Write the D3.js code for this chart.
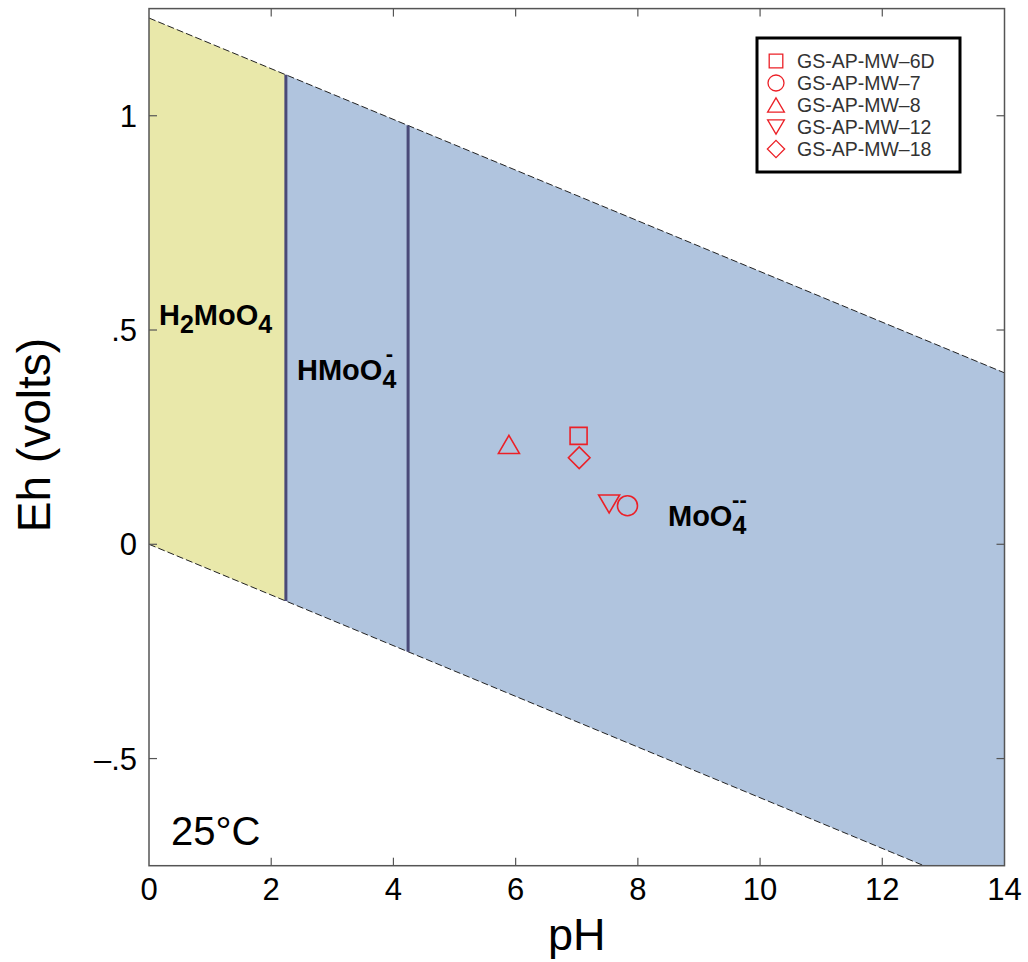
<!DOCTYPE html>
<html><head><meta charset="utf-8">
<script src="https://cdn.jsdelivr.net/npm/d3@7"></script>
<style>body{margin:0;background:#fff}svg{display:block}text{font-family:"Liberation Sans",Arial,sans-serif}</style>
</head><body>
<svg id="chart" width="1028" height="962"></svg>
<script>
// ---- data ----
const xTicks = [0, 2, 4, 6, 8, 10, 12, 14];
const yTicks = [-0.5, 0, 0.5, 1];
const yTickLabels = ["\u2013.5", "0", ".5", "1"];
// water stability limits (endpoints, pH vs Eh)
const upperWater = [[0, 1.228], [14, 0.400]];
const lowerWater = [[0, 0.0], [14, -0.828]];
// predominance boundaries (pH)
const boundaries = [2.24, 4.24];
const fieldNames = ["H2MoO4", "HMoO4-", "MoO4--"];
const sampleNames = ["GS-AP-MW\u20136D", "GS-AP-MW\u20137", "GS-AP-MW\u20138", "GS-AP-MW\u201312", "GS-AP-MW\u201318"];
const samplePH = [7.03, 7.83, 5.89, 7.53, 7.04];
const sampleEh = [0.253, 0.090, 0.233, 0.094, 0.202];
const sampleShapes = ["square", "circle", "triUp", "triDown", "diamond"];

// ---- layout ----
const svg = d3.select("#chart");
const L = 149, R = 1004.5, T = 8.6, B = 865.7;
const x = d3.scaleLinear().domain([0, 14]).range([L, R]);
const y = d3.scaleLinear().domain([-0.75, 1.25]).range([B, T]);

svg.append("defs").append("clipPath").attr("id", "clip")
  .append("rect").attr("x", L).attr("y", T).attr("width", R - L).attr("height", B - T);

const g = svg.append("g").attr("clip-path", "url(#clip)");

function lineAt(seg, ph) {
  const [a, b] = seg;
  return a[1] + (b[1] - a[1]) * (ph - a[0]) / (b[0] - a[0]);
}
function region(p0, p1) {
  return [[p0, lineAt(upperWater, p0)], [p1, lineAt(upperWater, p1)],
          [p1, lineAt(lowerWater, p1)], [p0, lineAt(lowerWater, p0)]];
}
const line = d3.line().x(d => x(d[0])).y(d => y(d[1]));
const fills = ["#e9e8aa", "#b0c4de"];
g.append("path").attr("d", line(region(0, boundaries[0])) + "Z").attr("fill", fills[0]);
g.append("path").attr("d", line(region(boundaries[0], 14)) + "Z").attr("fill", fills[1]);

// water lines
[upperWater, lowerWater].forEach(s => {
  g.append("path").attr("d", line(s)).attr("fill", "none")
    .attr("stroke", "#222").attr("stroke-width", 1).attr("stroke-dasharray", "7,3");
});
// boundaries
boundaries.forEach(p => {
  g.append("line").attr("x1", x(p)).attr("x2", x(p))
    .attr("y1", y(lineAt(upperWater, p))).attr("y2", y(lineAt(lowerWater, p)))
    .attr("stroke", "#4a4a78").attr("stroke-width", 3);
});

// frame
svg.append("rect").attr("x", L).attr("y", T).attr("width", R - L).attr("height", B - T)
  .attr("fill", "none").attr("stroke", "#555").attr("stroke-width", 1.5);

// ticks (inward on all sides)
const tk = 8;
xTicks.forEach(t => {
  if (t === 0 || t === 14) return;
  svg.append("line").attr("x1", x(t)).attr("x2", x(t)).attr("y1", B).attr("y2", B - tk).attr("stroke", "#555").attr("stroke-width", 1.2);
  svg.append("line").attr("x1", x(t)).attr("x2", x(t)).attr("y1", T).attr("y2", T + tk).attr("stroke", "#555").attr("stroke-width", 1.2);
});
yTicks.forEach(t => {
  svg.append("line").attr("x1", L).attr("x2", L + tk).attr("y1", y(t)).attr("y2", y(t)).attr("stroke", "#555").attr("stroke-width", 1.2);
  svg.append("line").attr("x1", R).attr("x2", R - tk).attr("y1", y(t)).attr("y2", y(t)).attr("stroke", "#555").attr("stroke-width", 1.2);
});
xTicks.forEach(t => {
  svg.append("text").attr("x", x(t)).attr("y", 900).attr("text-anchor", "middle")
    .attr("font-size", 31).attr("fill", "#000").text(t);
});
yTicks.forEach((t, i) => {
  svg.append("text").attr("x", 137).attr("y", y(t) + 11).attr("text-anchor", "end")
    .attr("font-size", 31).attr("fill", "#000").text(yTickLabels[i]);
});

// axis titles
svg.append("text").attr("x", x(7)).attr("y", 950).attr("text-anchor", "middle")
  .attr("font-size", 45).text("pH");
svg.append("text").attr("transform", "translate(50,435) rotate(-90)").attr("text-anchor", "middle")
  .attr("font-size", 46).text("Eh (volts)");

// 25°C
svg.append("text").attr("x", 171).attr("y", 845).attr("font-size", 40).text("25\u00B0C");

// field labels
function species(xp, yp, parts, sup) {
  const t = svg.append("text").attr("x", xp).attr("y", yp).attr("font-weight", "bold")
    .attr("font-size", 29).attr("fill", "#000");
  let idx = 0;
  parts.forEach(p => {
    const ts = t.append("tspan").text(p[0]);
    if (p[1]) { ts.attr("font-size", 25).attr("dy", 8); }
    else if (idx > 0) ts.attr("dy", parts[idx - 1][1] ? -8 : 0);
    idx++;
  });
  if (sup) {
    const node = t.node();
    const full = parts.map(p => p[0]).join("");
    const ci = full.length - 1;
    const sx = node.getStartPositionOfChar(ci).x;
    const w = node.getExtentOfChar(ci).width;
    svg.append("text").attr("x", sx + w / 2).attr("y", yp - 19).attr("text-anchor", "middle")
      .attr("font-weight", "bold").attr("font-size", 22).text(sup);
  }
}
species(159, 325, [["H"], ["2", true], ["MoO"], ["4", true]], null);
species(297, 380, [["HMoO"], ["4", true]], "-");
species(668, 526, [["MoO"], ["4", true]], "--");

// markers
function shapePath(s, k) {
  const p = d3.path();
  if (s === "square") { const h = 8.5 * k; p.rect(-h, -h, 2 * h, 2 * h); }
  else if (s === "circle") { p.arc(0, 0, 10 * k, 0, 2 * Math.PI); }
  else if (s === "triUp") { const w = 10.5 * k, h = 9 * k; p.moveTo(0, -h); p.lineTo(w, h); p.lineTo(-w, h); p.closePath(); }
  else if (s === "triDown") { const w = 10.5 * k, h = 9 * k; p.moveTo(-w, -h); p.lineTo(w, -h); p.lineTo(0, h); p.closePath(); }
  else if (s === "diamond") { const h = 10.8 * k; p.moveTo(0, -h); p.lineTo(h, 0); p.lineTo(0, h); p.lineTo(-h, 0); p.closePath(); }
  return p.toString();
}
const red = "#ec2027";
samplePH.forEach((ph, i) => {
  svg.append("path").attr("transform", `translate(${x(ph)},${y(sampleEh[i])})`)
    .attr("d", shapePath(sampleShapes[i], 1)).attr("fill", "none")
    .attr("stroke", red).attr("stroke-width", 1.6);
});

// legend
const lg = svg.append("g");
lg.append("rect").attr("x", 757).attr("y", 38).attr("width", 203).attr("height", 134)
  .attr("fill", "#fff").attr("stroke", "#000").attr("stroke-width", 3);
sampleNames.forEach((n, i) => {
  const cy = 61 + i * 22;
  lg.append("path").attr("transform", `translate(776,${cy})`).attr("d", shapePath(sampleShapes[i], 0.8))
    .attr("fill", "none").attr("stroke", red).attr("stroke-width", 1.3);
  lg.append("text").attr("x", 797).attr("y", cy + 7).attr("font-size", 19.5).attr("fill", "#333").text(n);
});
</script>
</body></html>
